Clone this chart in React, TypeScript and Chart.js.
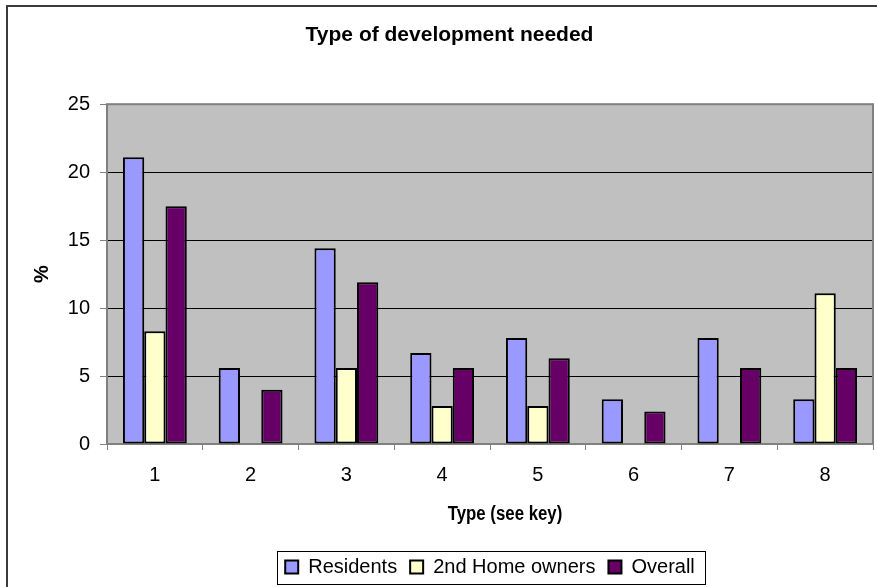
import React, { useEffect, useRef } from "react";
import { Chart, registerables } from "chart.js";

Chart.register(...registerables);

const categories = ["1", "2", "3", "4", "5", "6", "7", "8"];
const residents = [21.1, 5.6, 14.4, 6.7, 7.8, 3.3, 7.8, 3.3];
const secondHomeOwners = [8.3, null, 5.6, 2.8, 2.8, null, null, 11.1];
const overall = [17.5, 4.0, 11.9, 5.6, 6.3, 2.4, 5.6, 5.6];
const yTicks = [0, 5, 10, 15, 20, 25];
const xAxisTitle = "Type (see key)";

const FONT = '"Liberation Sans", Arial, sans-serif';

// Grey plot area with a thin grey frame, the outer chart frame,
// the boxed legend and the x-axis caption.
const framePlugin = {
  id: "frame",
  beforeDraw(chart: any) {
    const { ctx, chartArea } = chart;
    ctx.save();
    ctx.fillStyle = "#ffffff";
    ctx.fillRect(0, 0, chart.width, chart.height);
    ctx.fillStyle = "#c0c0c0";
    ctx.fillRect(chartArea.left, chartArea.top, chartArea.right - chartArea.left, chartArea.bottom - chartArea.top);
    ctx.strokeStyle = "#3a3a3a";
    ctx.lineWidth = 2;
    ctx.strokeRect(7, 6, chart.width + 20, chart.height + 20);
    ctx.restore();
  },
  beforeDatasetsDraw(chart: any) {
    const { ctx, chartArea } = chart;
    ctx.save();
    ctx.strokeStyle = "#808080";
    ctx.lineWidth = 2;
    ctx.strokeRect(chartArea.left, chartArea.top, chartArea.right - chartArea.left, chartArea.bottom - chartArea.top);
    ctx.restore();
  },
  afterDraw(chart: any) {
    const { ctx } = chart;
    const xScale = chart.scales.x;
    // x-axis caption, set slightly right of centre in a condensed bold face
    ctx.save();
    ctx.fillStyle = "#000000";
    ctx.font = `bold 20px ${FONT}`;
    ctx.textAlign = "center";
    ctx.textBaseline = "middle";
    const cx = (xScale.left + xScale.right) / 2 + 15;
    ctx.translate(cx, xScale.top + 70);
    ctx.scale(0.84, 1);
    ctx.fillText(xAxisTitle, 0, 0);
    ctx.restore();

    const legend = chart.legend;
    if (!legend || !legend.legendHitBoxes || !legend.legendHitBoxes.length) return;
    const boxes = legend.legendHitBoxes;
    const first = boxes[0];
    const last = boxes[boxes.length - 1];
    const cy = first.top + first.height / 2;
    ctx.save();
    ctx.strokeStyle = "#000000";
    ctx.lineWidth = 1;
    const x0 = Math.round(first.left - 8) + 0.5;
    const x1 = Math.round(last.left + last.width + 10) + 0.5;
    ctx.strokeRect(x0, Math.round(cy - 16) + 0.5, x1 - x0, 33);
    ctx.restore();
  },
};

export default function App() {
  const canvasRef = useRef<HTMLCanvasElement | null>(null);

  useEffect(() => {
    document.body.style.margin = "0";
    const canvas = canvasRef.current;
    if (!canvas) return;
    const chart = new Chart(canvas, {
      type: "bar",
      data: {
        labels: categories,
        datasets: [
          {
            label: "Residents",
            data: residents,
            backgroundColor: "#9999ff",
            borderColor: "#000000",
            borderWidth: 2,
            borderSkipped: false,
          },
          {
            label: "2nd Home owners",
            data: secondHomeOwners,
            backgroundColor: "#ffffcc",
            borderColor: "#000000",
            borderWidth: 2,
            borderSkipped: false,
          },
          {
            label: "Overall",
            data: overall,
            backgroundColor: "#660066",
            borderColor: "#000000",
            borderWidth: 2,
            borderSkipped: false,
          },
        ],
      },
      options: {
        responsive: false,
        animation: false,
        devicePixelRatio: 1,
        layout: { padding: { left: 26, right: 4, top: 0, bottom: 0 } },
        datasets: {
          bar: { categoryPercentage: 3 / 4.5, barPercentage: 1 },
        },
        plugins: {
          title: {
            display: true,
            text: "Type of development needed",
            color: "#000000",
            font: { family: FONT, size: 21, weight: "bold" },
            padding: { top: 23, bottom: 56 },
          },
          legend: {
            display: true,
            position: "bottom",
            fullSize: false,
            labels: {
              color: "#000000",
              font: { family: FONT, size: 20 },
              boxWidth: 13,
              boxHeight: 13,
              padding: 13,
            },
          },
          tooltip: { enabled: false },
        },
        scales: {
          x: {
            grid: {
              display: true,
              drawOnChartArea: false,
              drawTicks: true,
              tickLength: 6,
              color: "#808080",
              offset: true,
            },
            border: { display: false },
            ticks: {
              color: "#000000",
              font: { family: FONT, size: 20 },
              padding: 13,
              maxRotation: 0,
            },
            afterFit(scale: any) {
              scale.height = 100;
            },
          },
          y: {
            min: 0,
            max: 25,
            afterBuildTicks(scale: any) {
              scale.ticks = yTicks.map((v) => ({ value: v }));
            },
            grid: {
              color: "#000000",
              lineWidth: 1,
              tickColor: "#808080",
              tickLength: 7,
            },
            border: { display: false },
            ticks: {
              color: "#000000",
              font: { family: FONT, size: 20 },
              padding: 10,
            },
            title: {
              display: true,
              text: "%",
              color: "#000000",
              font: { family: FONT, size: 20, weight: "bold" },
              padding: { top: 4, bottom: 0 },
            },
            afterFit(scale: any) {
              scale.width = 81;
            },
          },
        },
      },
      plugins: [framePlugin],
    });
    return () => chart.destroy();
  }, []);

  return (
    <div style={{ width: 877, height: 587, overflow: "hidden" }}>
      <canvas ref={canvasRef} width={877} height={587} style={{ display: "block" }} />
    </div>
  );
}
